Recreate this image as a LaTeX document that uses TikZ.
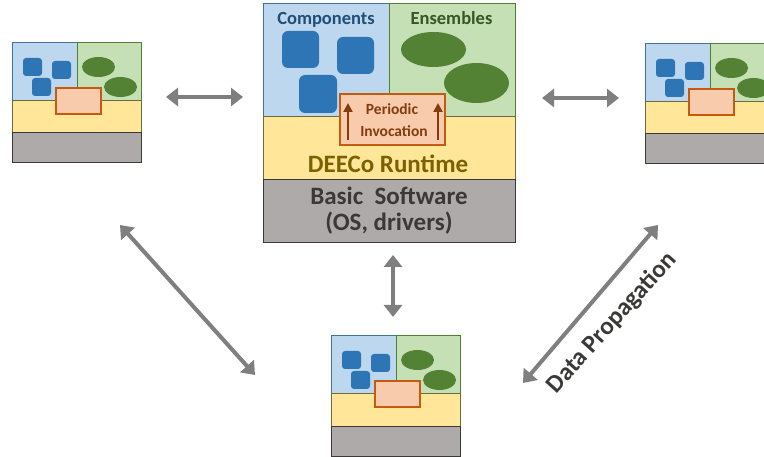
\documentclass[tikz,border=0pt]{standalone}
\usepackage{fontspec}
\setmainfont{Carlito}
\usetikzlibrary{arrows.meta}
\definecolor{bluebg}{HTML}{BDD7EE}
\definecolor{blueline}{HTML}{41719C}
\definecolor{sqblue}{HTML}{2E75B6}
\definecolor{greenbg}{HTML}{C5E0B4}
\definecolor{greenline}{HTML}{507E32}
\definecolor{ellgreen}{HTML}{548235}
\definecolor{yellowbg}{HTML}{FFE699}
\definecolor{yellowline}{HTML}{6B6B3A}
\definecolor{graybg}{HTML}{AEAAAA}
\definecolor{grayline}{HTML}{3B3838}
\definecolor{orangebg}{HTML}{F8CBAD}
\definecolor{orangeline}{HTML}{C55A11}
\definecolor{browntext}{HTML}{843C0C}
\definecolor{deecotext}{HTML}{7F6000}
\definecolor{comptext}{HTML}{1F4E79}
\definecolor{enstext}{HTML}{375623}
\definecolor{basictext}{HTML}{3B3838}
\definecolor{arrowgray}{HTML}{7F7F7F}
\tikzset{
  bluereg/.style={fill=bluebg, draw=blueline, line width=1pt},
  greenreg/.style={fill=greenbg, draw=greenline, line width=1pt},
  yellowreg/.style={fill=yellowbg, draw=yellowline, line width=1pt},
  grayreg/.style={fill=graybg, draw=grayline, line width=1pt},
  sqstyle/.style={fill=sqblue, draw=none, rounded corners=3pt},
  bigsq/.style={fill=sqblue, draw=none, rounded corners=6pt},
  ellstyle/.style={fill=ellgreen, draw=none},
  orangebox/.style={fill=orangebg, draw=orangeline, line width=1.2pt},
  linkarrow/.style={draw=arrowgray, line width=4pt, {Triangle[length=12pt,width=18pt]}-{Triangle[length=12pt,width=18pt]}},
  uparrow/.style={draw=browntext, line width=2pt, -{Triangle[length=9pt,width=9pt]}},
  placeholder/.style={draw=none, anchor=north west, inner sep=0pt, minimum width=129pt, minimum height=120pt},
  mini/.pic={
    \path[bluereg] (0,0) rectangle (65,58);
    \path[greenreg] (65,0) rectangle (129,58);
    \path[yellowreg] (0,58) rectangle (129,90);
    \path[grayreg] (0,90) rectangle (129,120);
    \path[sqstyle] (11,15) rectangle (30,33);
    \path[sqstyle] (40,18) rectangle (59,36);
    \path[sqstyle] (20,35) rectangle (39,53);
    \path[ellstyle] (86.5,24) ellipse [x radius=16.5, y radius=10];
    \path[ellstyle] (108.5,44) ellipse [x radius=16.5, y radius=10];
    \path[orangebox] (44,45) rectangle (89,71);
  }
}
\begin{document}
\begin{tikzpicture}[x=1pt,y=-1pt]
\useasboundingbox (0,0) rectangle (764,457);
\clip (0,0) rectangle (764,457);

% small nodes
\node[placeholder] (left) at (12,43) {};
\pic at (left.north west) {mini};
\node[placeholder] (right) at (645,44) {};
\pic at (right.north west) {mini};
\node[placeholder] (bottom) at (331,336) {};
\pic at (bottom.north west) {mini};

% main node
\node[placeholder, minimum width=252pt, minimum height=239pt] (main) at (263,4) {};
\path[bluereg] (263,4) rectangle (389,117);
\path[greenreg] (389,4) rectangle (515,117);
\path[yellowreg] (263,117) rectangle (515,180);
\path[grayreg] (263,180) rectangle (515,243);
\path[bigsq] (282,31) rectangle (319,68);
\path[bigsq] (337,37) rectangle (374,74);
\path[bigsq] (299,75) rectangle (337,113);
\path[ellstyle] (433.5,49.5) ellipse [x radius=32.5, y radius=17.5];
\path[ellstyle] (476.5,83) ellipse [x radius=32.5, y radius=20];

\node[anchor=base, text=comptext, font=\bfseries\fontsize{18.5}{20}\selectfont] (comp) at (326,25) {Components};
\node[anchor=base, text=enstext, font=\bfseries\fontsize{18.5}{20}\selectfont] (ens) at (451.5,25) {Ensembles};

\node[orangebox, minimum width=105pt, minimum height=51pt, inner sep=0pt] (per) at (392.5,119.5) {};
\node[anchor=base, text=browntext, font=\bfseries\fontsize{15.5}{18}\selectfont] (perT) at (392,115) {Periodic};
\node[anchor=base, text=browntext, font=\bfseries\fontsize{15.5}{18}\selectfont] (invT) at (394,137) {Invocation};
\coordinate (pl1) at (348,140); \coordinate (pl2) at (348,103);
\coordinate (pr1) at (438,140); \coordinate (pr2) at (438,103);
\draw[uparrow] (pl1) -- (pl2);
\draw[uparrow] (pr1) -- (pr2);

\node[anchor=base, text=deecotext, font=\bfseries\fontsize{25}{28}\selectfont] (deeco) at (388,173) {DEECo Runtime};
\node[anchor=base, text=basictext, font=\bfseries\fontsize{25}{28}\selectfont] (basic) at (389,205) {Basic\ \ Software};
\node[anchor=base, text=basictext, font=\bfseries\fontsize{25}{28}\selectfont] (os) at (389,231) {(OS, drivers)};

% connectors
\coordinate (a1) at (166,97); \coordinate (a2) at (243,97);
\coordinate (b1) at (542,98); \coordinate (b2) at (619,98);
\coordinate (c1) at (393,255); \coordinate (c2) at (393,317);
\coordinate (d1) at (120,225); \coordinate (d2) at (255,375);
\coordinate (e1) at (523,383); \coordinate (e2) at (658,225);
\draw[linkarrow] (a1) -- (a2);
\draw[linkarrow] (b1) -- (b2);
\draw[linkarrow] (c1) -- (c2);
\draw[linkarrow] (d1) -- (d2);
\draw[linkarrow] (e1) -- (e2);

\node[rotate=48, text=basictext, font=\bfseries\fontsize{25}{27}\selectfont] (data) at (612,323) {Data Propagation};
\end{tikzpicture}
\end{document}
